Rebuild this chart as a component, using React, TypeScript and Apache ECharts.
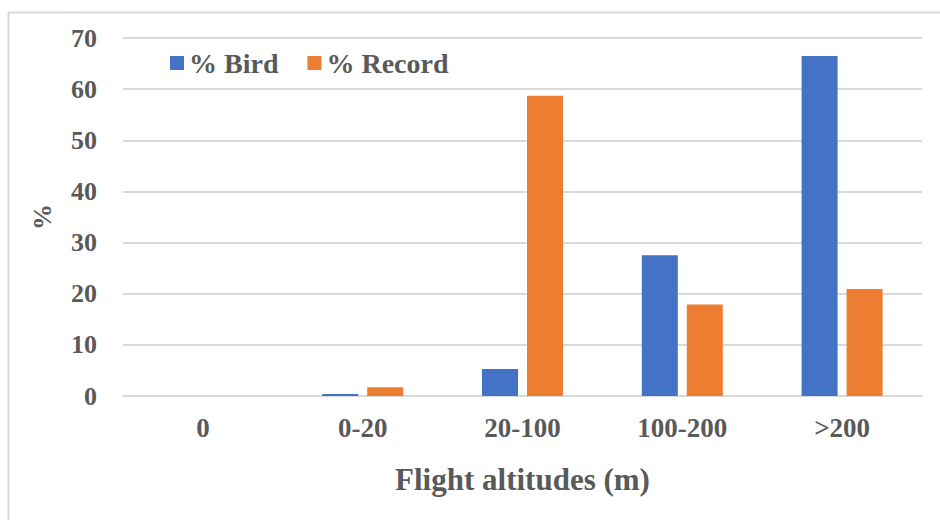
import React, { useEffect, useRef } from "react";
import * as echarts from "echarts";

const categories = ["0", "0-20", "20-100", "100-200", ">200"];
const birdValues = [0, 0.4, 5.3, 27.5, 66.5];
const recordValues = [0, 1.7, 58.7, 17.9, 20.9];
const yTicks = [0, 10, 20, 30, 40, 50, 60, 70];

const FONT = "'Liberation Serif', 'Times New Roman', serif";
const TXT = "#595959";

export default function App() {
  const ref = useRef<HTMLDivElement>(null);
  useEffect(() => {
    document.body.style.margin = "0";
    const chart = echarts.init(ref.current!, null, { renderer: "svg" });
    chart.setOption({
      animation: false,
      backgroundColor: "#ffffff",
      graphic: [
        { type: "line", shape: { x1: 8, y1: 12.5, x2: 940, y2: 12.5 }, style: { stroke: "#d9d9d9", lineWidth: 2 } },
        { type: "line", shape: { x1: 8.5, y1: 12, x2: 8.5, y2: 520 }, style: { stroke: "#d9d9d9", lineWidth: 2 } },
      ],
      legend: {
        left: 165,
        top: 44,
        itemWidth: 14,
        itemHeight: 14,
        itemGap: 29,
        icon: "rect",
        textStyle: { fontFamily: FONT, fontSize: 28, fontWeight: "bold", color: TXT },
        data: ["% Bird", "% Record"],
      },
      grid: { left: 123, right: 18, top: 38, bottom: 124 },
      xAxis: {
        type: "category",
        data: categories,
        name: "Flight altitudes (m)",
        nameLocation: "middle",
        nameGap: 68,
        nameTextStyle: { fontFamily: FONT, fontSize: 31, fontWeight: "bold", color: TXT },
        axisLine: { lineStyle: { color: "#d9d9d9", width: 2 } },
        axisTick: { show: false },
        axisLabel: { fontFamily: FONT, fontSize: 27, fontWeight: "bold", color: TXT, margin: 18 },
      },
      yAxis: {
        type: "value",
        min: yTicks[0],
        max: yTicks[yTicks.length - 1],
        interval: 10,
        name: "%",
        nameLocation: "middle",
        nameGap: 68,
        nameTextStyle: { fontFamily: FONT, fontSize: 26, fontWeight: "bold", color: TXT },
        axisLine: { show: false },
        axisTick: { show: false },
        axisLabel: { fontFamily: FONT, fontSize: 26, fontWeight: "bold", color: TXT, margin: 26 },
        splitLine: { lineStyle: { color: "#d9d9d9", width: 2 } },
      },
      series: [
        {
          name: "% Bird",
          type: "bar",
          data: birdValues,
          barWidth: 36,
          barGap: "25%",
          itemStyle: { color: "#4472C4" },
        },
        {
          name: "% Record",
          type: "bar",
          data: recordValues,
          barWidth: 36,
          barGap: "25%",
          itemStyle: { color: "#ED7D31" },
        },
      ],
    });
    return () => chart.dispose();
  }, []);
  return <div ref={ref} style={{ width: 940, height: 520 }} />;
}
